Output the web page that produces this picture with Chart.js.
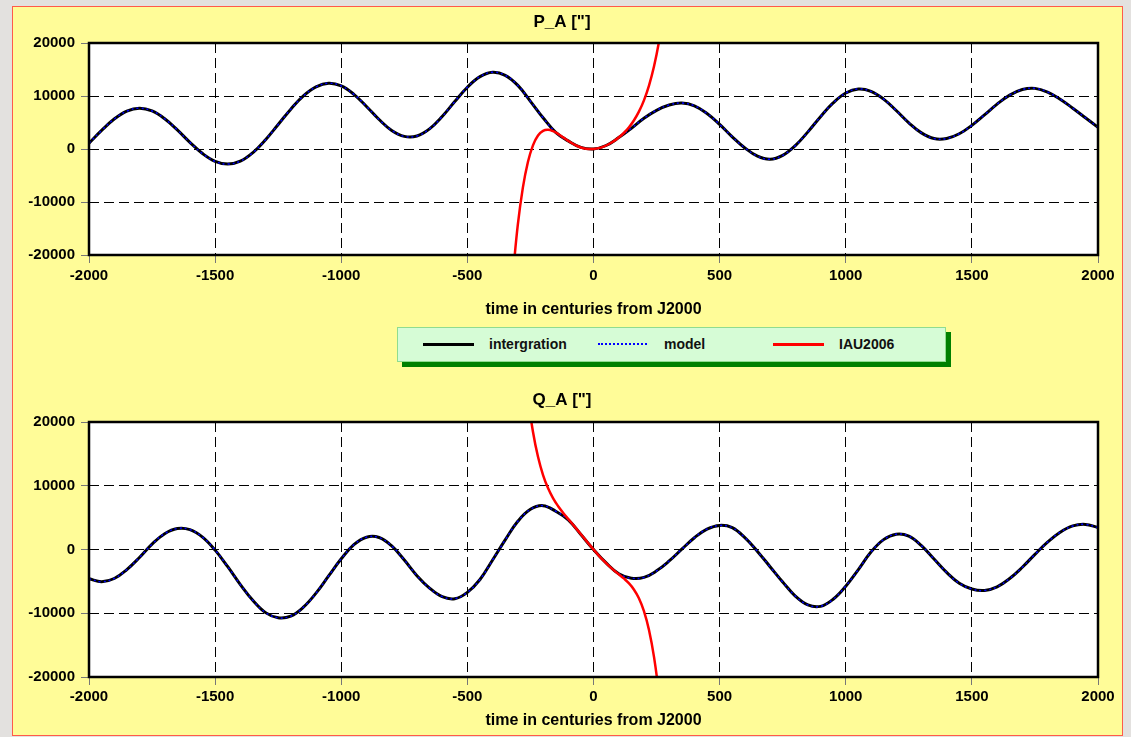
<!DOCTYPE html>
<html>
<head>
<meta charset="utf-8">
<script src="https://cdn.jsdelivr.net/npm/chart.js@4.4.1/dist/chart.umd.min.js"></script>
<style>
  body {
    margin: 0;
    width: 1131px;
    height: 737px;
    background: #e3e1df;
    position: relative;
    overflow: hidden;
    font-family: "Liberation Sans", Arial, sans-serif;
  }
  #panel {
    position: absolute;
    left: 12px; top: 6px;
    width: 1111px; height: 730px;
    box-sizing: border-box;
    background: #fffc98;
    border: 1px solid #ff5a4a;
  }
  canvas { position: absolute; }
  #legend {
    position: absolute;
    left: 397px; top: 327px;
    width: 549px; height: 35px;
    box-sizing: border-box;
    background: #d6fcd6;
    border: 1px solid #8fdc8f;
    box-shadow: 5px 5px 0 #008000;
    font-weight: bold;
    font-size: 14px;
    color: #111;
  }
  #legend .sample { position: absolute; top: 15px; width: 51px; height: 0; }
  #legend .label { position: absolute; top: 7px; line-height: 18px; }
</style>
</head>
<body>
<div id="panel"></div>
<canvas id="paChart" width="1111" height="320" style="left:12px; top:6px;"></canvas>
<canvas id="qaChart" width="1111" height="356" style="left:12px; top:380px;"></canvas>
<div id="legend">
  <span class="sample" style="left:25px; border-top:3px solid #000;"></span>
  <span class="label" style="left:91px;">intergration</span>
  <span class="sample" style="left:200px; width:49px; border-top:2px dotted #0000ff;"></span>
  <span class="label" style="left:266px;">model</span>
  <span class="sample" style="left:375px; border-top:3px solid #ff0000;"></span>
  <span class="label" style="left:441px;">IAU2006</span>
</div>
<script>
// time axis, centuries from J2000
const centuries = [-2000, -1950, -1900, -1850, -1800, -1750, -1700, -1650, -1600, -1550,
  -1500, -1450, -1400, -1350, -1300, -1250, -1200, -1150, -1100, -1050,
  -1000, -950, -900, -850, -800, -750, -700, -650, -600, -550,
  -500, -450, -400, -350, -300, -250, -200, -150, -100, -50,
  0, 50, 100, 150, 200, 250, 300, 350, 400, 450,
  500, 550, 600, 650, 700, 750, 800, 850, 900, 950,
  1000, 1050, 1100, 1150, 1200, 1250, 1300, 1350, 1400, 1450,
  1500, 1550, 1600, 1650, 1700, 1750, 1800, 1850, 1900, 1950, 2000];

const paIntegration = [1100, 3500, 5650, 7150, 7700, 7180, 5710, 3600, 1250, -860,
  -2330, -2850, -2290, -670, 1750, 4620, 7520, 10020, 11720, 12400,
  11900, 10320, 8030, 5560, 3510, 2380, 2450, 3790, 6120, 8950,
  11650, 13650, 14490, 13900, 12000, 9000, 5900, 3150, 1530, 310,
  0, 660, 2150, 3900, 5800, 7300, 8300, 8670, 8150, 6700,
  4650, 2300, 200, -1350, -1950, -1200, 640, 3230, 6100, 8690,
  10560, 11320, 10880, 9420, 7270, 4950, 3040, 1970, 1980, 2870,
  4460, 6440, 8470, 10160, 11220, 11440, 10750, 9400, 7700, 5900, 4100];

const qaIntegration = [-4600, -5050, -4550, -3150, -1250, 850, 2480, 3290, 3120, 1950,
  -100, -2700, -5500, -8000, -9900, -10720, -10450, -9050, -6850, -4150,
  -1450, 750, 1930, 1880, 560, -1650, -4100, -6050, -7400, -7720,
  -6720, -4700, -1650, 1500, 4420, 6300, 6880, 6000, 4650, 2350,
  0, -2100, -3800, -4500, -4380, -3350, -1800, 50, 1850, 3200,
  3780, 3420, 1850, -300, -2700, -5100, -7300, -8700, -8920, -7800,
  -5750, -3150, -400, 1550, 2400, 2100, 600, -1500, -3600, -5300,
  -6200, -6430, -5850, -4550, -2780, -760, 1150, 2700, 3700, 3940, 3440];

// the model follows the integration closely at this scale
const paModel = paIntegration;
const qaModel = qaIntegration;

// IAU2006 polynomial curves, only meaningful near J2000
const iauCenturies = [-320, -300, -280, -260, -240, -220, -200, -180, -160, -140,
  -120, -100, -80, -60, -40, -20, 0, 20, 40, 60,
  80, 100, 120, 140, 160, 180, 200, 220, 240, 260, 280];
const paIAU = [-23946, -14282, -7294, -2455, 691, 2537, 3418, 3615, 3358, 2835,
  2190, 1534, 944, 474, 153, -5, 0, 160, 463, 899,
  1464, 2164, 3019, 4069, 5378, 7041, 9183, 11969, 15605, 20347, 26499];
const qaIAU = [53970, 41047, 31233, 23892, 18481, 14538, 11681, 9595, 8029, 6792,
  5740, 4775, 3833, 2884, 1921, 952, 0, -912, -1761, -2534,
  -3233, -3883, -4539, -5288, -6264, -7644, -9666, -12625, -16889, -22897, -31173];

const yTicks = [-20000, -10000, 0, 10000, 20000];

const fontFamily = '"Liberation Sans", Arial, sans-serif';
const tickFont = { family: fontFamily, size: 15, weight: 'bold' };

const framePlugin = {
  id: 'frame',
  beforeDraw(chart) {
    const a = chart.chartArea;
    chart.ctx.save();
    chart.ctx.fillStyle = '#fff';
    chart.ctx.fillRect(a.left, a.top, a.right - a.left, a.bottom - a.top);
    chart.ctx.restore();
  },
  afterDraw(chart) {
    const a = chart.chartArea;
    chart.ctx.save();
    chart.ctx.strokeStyle = '#000';
    chart.ctx.lineWidth = 2.5;
    chart.ctx.strokeRect(a.left, a.top, a.right - a.left, a.bottom - a.top);
    chart.ctx.restore();
  }
};

function toPoints(xs, ys) {
  return xs.map((x, i) => ({ x: x, y: ys[i] }));
}

function makeDatasets(integ, model, iau) {
  return [
    { label: 'IAU2006', data: toPoints(iauCenturies, iau), borderColor: '#ff0000',
      borderWidth: 2.5, pointRadius: 0, tension: 0.4, order: 0 },
    { label: 'model', data: toPoints(centuries, model), borderColor: '#0000ff',
      borderWidth: 1.5, borderDash: [2, 3], pointRadius: 0, tension: 0.4, order: 1 },
    { label: 'intergration', data: toPoints(centuries, integ), borderColor: '#000',
      borderWidth: 3, pointRadius: 0, tension: 0.4, order: 2 }
  ];
}

function makeOptions(title, t) {
  return {
    responsive: false,
    animation: false,
    layout: { padding: { left: 14, right: 25 } },
    plugins: {
      legend: { display: false },
      tooltip: { enabled: false },
      title: {
        display: true, text: title, color: '#000',
        font: { family: fontFamily, size: 17, weight: 'bold' },
        padding: { top: t.titleTop, bottom: t.titleBottom }
      }
    },
    scales: {
      x: {
        type: 'linear', min: -2000, max: 2000,
        ticks: { stepSize: 500, autoSkip: false, maxRotation: 0, color: '#000',
          font: tickFont, padding: t.xTickPad, callback: v => String(v) },
        grid: { color: '#000', tickColor: '#777', tickLength: 8 },
        border: { display: false, dash: [10, 5] },
        title: { display: true, text: 'time in centuries from J2000', color: '#000',
          font: { family: fontFamily, size: 16, weight: 'bold' },
          padding: { top: 0, bottom: t.xTitleBottom } },
        afterFit: s => { s.height = t.xHeight; }
      },
      y: {
        min: yTicks[0], max: yTicks[yTicks.length - 1],
        afterBuildTicks: s => { s.ticks = yTicks.map(v => ({ value: v })); },
        ticks: { color: '#000', font: tickFont, padding: 6, callback: v => String(v) },
        grid: { color: '#000', tickColor: '#777', tickLength: 8 },
        border: { display: false, dash: [10, 5] },
        afterFit: s => { s.width = 63; }
      }
    }
  };
}

new Chart(document.getElementById('paChart'), {
  type: 'line',
  data: { datasets: makeDatasets(paIntegration, paModel, paIAU) },
  options: makeOptions('P_A ["]', { titleTop: 6, titleBottom: 10.6, xTickPad: 4, xTitleBottom: 7, xHeight: 71 }),
  plugins: [framePlugin]
});

new Chart(document.getElementById('qaChart'), {
  type: 'line',
  data: { datasets: makeDatasets(qaIntegration, qaModel, qaIAU) },
  options: makeOptions('Q_A ["]', { titleTop: 10, titleBottom: 11.6, xTickPad: 3, xTitleBottom: 5.4, xHeight: 59 }),
  plugins: [framePlugin]
});
</script>
</body>
</html>
